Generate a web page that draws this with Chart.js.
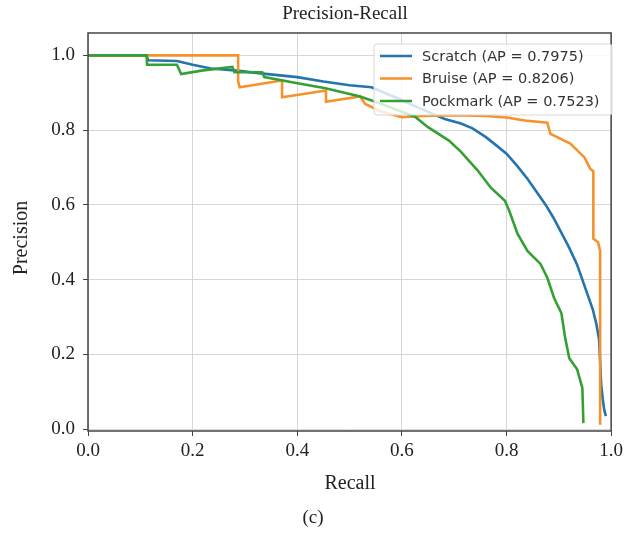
<!DOCTYPE html>
<html>
<head>
<meta charset="utf-8">
<title>Precision-Recall</title>
<script src="https://cdn.jsdelivr.net/npm/chart.js@4.4.1/dist/chart.umd.min.js"></script>
<style>
  html, body { margin: 0; padding: 0; background: #fff; }
  #wrap { width: 627px; height: 537px; }
</style>
</head>
<body>
<div id="wrap"><canvas id="prChart" width="627" height="537"></canvas></div>
<script>
// values
const xTicks = [0, 0.2, 0.4, 0.6, 0.8, 1.0];
const yTicks = [0, 0.2, 0.4, 0.6, 0.8, 1.0];

const seriesNames = ["Scratch", "Bruise", "Pockmark"];
const seriesAP = [0.7975, 0.8206, 0.7523];

const scratchRecall = [0, 0.112, 0.115, 0.17, 0.2, 0.235, 0.28, 0.33, 0.4, 0.45, 0.5, 0.542, 0.6, 0.64, 0.682, 0.713, 0.735, 0.76, 0.78, 0.8, 0.82, 0.84, 0.86, 0.875, 0.89, 0.905, 0.92, 0.935, 0.945, 0.955, 0.965, 0.972, 0.977, 0.979, 0.981, 0.984, 0.987, 0.99];
const scratchPrecision = [1, 1, 0.987, 0.985, 0.975, 0.965, 0.96, 0.952, 0.942, 0.93, 0.92, 0.915, 0.88, 0.855, 0.83, 0.818, 0.805, 0.782, 0.76, 0.737, 0.705, 0.67, 0.63, 0.6, 0.565, 0.525, 0.485, 0.44, 0.4, 0.36, 0.32, 0.28, 0.24, 0.18, 0.12, 0.08, 0.05, 0.035];

const bruiseRecall = [0, 0.287, 0.287, 0.29, 0.371, 0.371, 0.455, 0.455, 0.52, 0.53, 0.56, 0.6, 0.64, 0.7, 0.76, 0.8, 0.835, 0.878, 0.884, 0.922, 0.949, 0.96, 0.966, 0.966, 0.975, 0.979, 0.979];
const bruisePrecision = [1, 1, 0.93, 0.915, 0.933, 0.888, 0.906, 0.876, 0.89, 0.87, 0.85, 0.835, 0.838, 0.84, 0.838, 0.834, 0.826, 0.82, 0.79, 0.764, 0.727, 0.697, 0.69, 0.51, 0.5, 0.477, 0.012];

const pockRecall = [0, 0.112, 0.113, 0.17, 0.178, 0.22, 0.276, 0.28, 0.333, 0.337, 0.39, 0.454, 0.52, 0.545, 0.58, 0.625, 0.65, 0.69, 0.713, 0.745, 0.77, 0.797, 0.805, 0.821, 0.84, 0.865, 0.878, 0.891, 0.905, 0.912, 0.92, 0.935, 0.945, 0.947];
const pockPrecision = [1, 1, 0.975, 0.975, 0.95, 0.96, 0.969, 0.955, 0.955, 0.942, 0.928, 0.912, 0.89, 0.878, 0.86, 0.836, 0.808, 0.772, 0.742, 0.692, 0.646, 0.611, 0.585, 0.523, 0.477, 0.442, 0.405, 0.351, 0.31, 0.245, 0.19, 0.16, 0.11, 0.016];

const colors = ["#2474ad", "#f5922a", "#34a033"];

function pts(xs, ys) {
  return xs.map((x, i) => ({ x: x, y: ys[i] }));
}

const serif = "'Liberation Serif', 'Times New Roman', serif";

const decorPlugin = {
  id: "decor",
  afterDatasetsDraw(chart) {
    const ctx = chart.ctx;
    const a = chart.chartArea;

    // frame
    ctx.save();
    ctx.strokeStyle = "#444";
    ctx.lineWidth = 1.5;
    ctx.strokeRect(a.left, a.top, a.right - a.left, a.bottom - a.top);

    // legend
    const bx = 374, by = 44, bw = 238, bh = 71;
    ctx.fillStyle = "rgba(255,255,255,0.8)";
    ctx.strokeStyle = "#d8d8d8";
    ctx.lineWidth = 1;
    ctx.beginPath();
    ctx.roundRect(bx, by, bw, bh, 3);
    ctx.fill();
    ctx.stroke();

    ctx.font = "14.5px 'DejaVu Sans', sans-serif";
    ctx.textBaseline = "middle";
    ctx.textAlign = "left";
    chart.data.datasets.forEach((ds, i) => {
      const y = 56 + i * 22.5;
      ctx.strokeStyle = ds.borderColor;
      ctx.lineWidth = 2.5;
      ctx.beginPath();
      ctx.moveTo(380, y);
      ctx.lineTo(412, y);
      ctx.stroke();
      ctx.fillStyle = "#333";
      ctx.fillText(ds.label, 422, y + 1);
    });

    // titles
    ctx.fillStyle = "#222";
    ctx.textAlign = "center";
    ctx.font = "19px " + serif;
    ctx.fillText("Precision-Recall", 345, 14);
    ctx.font = "20px " + serif;
    ctx.fillText("Recall", 350, 484);
    ctx.font = "19px " + serif;
    ctx.fillText("(c)", 313, 518);
    ctx.font = "20px " + serif;
    ctx.translate(22, 238);
    ctx.rotate(-Math.PI / 2);
    ctx.fillText("Precision", 0, 0);
    ctx.restore();
  }
};

new Chart(document.getElementById("prChart"), {
  type: "line",
  data: {
    datasets: [
      { label: seriesNames[0] + " (AP = " + seriesAP[0].toFixed(4) + ")", data: pts(scratchRecall, scratchPrecision), borderColor: colors[0], order: 3 },
      { label: seriesNames[1] + " (AP = " + seriesAP[1].toFixed(4) + ")", data: pts(bruiseRecall, bruisePrecision), borderColor: colors[1], order: 2 },
      { label: seriesNames[2] + " (AP = " + seriesAP[2].toFixed(4) + ")", data: pts(pockRecall, pockPrecision), borderColor: colors[2], order: 1 }
    ]
  },
  options: {
    responsive: false,
    animation: false,
    events: [],
    layout: { padding: { left: 0, right: 12, top: 33, bottom: 0 } },
    elements: {
      point: { radius: 0 },
      line: { borderWidth: 2.6, tension: 0, fill: false }
    },
    plugins: {
      legend: { display: false },
      title: { display: false },
      tooltip: { enabled: false }
    },
    scales: {
      x: {
        type: "linear",
        min: 0,
        max: 1,
        afterFit(scale) { scale.height = 106; },
        afterBuildTicks(scale) { scale.ticks = xTicks.map(v => ({ value: v })); },
        grid: { color: "#d6d6d6", lineWidth: 1, tickColor: "#444", tickLength: 5 },
        border: { display: false },
        ticks: {
          padding: 4,
          color: "#222",
          font: { family: serif, size: 19 },
          callback: v => v.toFixed(1)
        }
      },
      y: {
        min: -0.005,
        max: 1.06,
        afterFit(scale) { scale.width = 88; },
        afterBuildTicks(scale) { scale.ticks = yTicks.map(v => ({ value: v })); },
        grid: { color: "#d6d6d6", lineWidth: 1, tickColor: "#444", tickLength: 5 },
        border: { display: false },
        ticks: {
          padding: 8,
          color: "#222",
          font: { family: serif, size: 19 },
          callback: v => v.toFixed(1)
        }
      }
    }
  },
  plugins: [decorPlugin]
});
</script>
</body>
</html>
